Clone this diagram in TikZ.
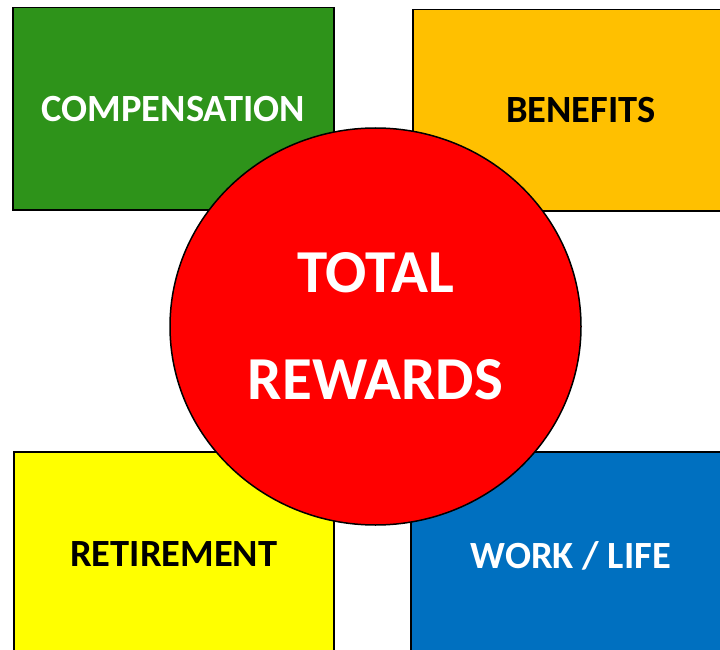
\documentclass[tikz,border=0pt]{standalone}
\usepackage{fontspec}
\setmainfont{Carlito}
\usetikzlibrary{shapes.geometric}
\definecolor{cgreen}{RGB}{46,147,26}
\definecolor{corange}{RGB}{255,192,0}
\definecolor{cyellow}{RGB}{255,255,0}
\definecolor{cblue}{RGB}{0,112,192}
\definecolor{cred}{RGB}{255,0,0}
\tikzset{
  box/.style={draw=black, line width=1.5pt, rectangle, inner sep=0pt, anchor=north west,
    font=\fontsize{38.5}{42}\selectfont\bfseries},
  hub/.style={draw=black, line width=1.5pt, ellipse, fill=cred, inner sep=0pt,
    minimum width=411pt, minimum height=397pt, text=white, align=center,
    font=\fontsize{61}{107}\selectfont\bfseries}
}
\begin{document}
\begin{tikzpicture}[x=1pt,y=-1pt]
\useasboundingbox (0,0) rectangle (720,650);
\clip (0,0) rectangle (720,650);
\fill[white] (0,0) rectangle (720,650);
\node[box, fill=cgreen, text=white, minimum width=321pt, minimum height=202pt] (comp) at (12,7) {COMPENSATION};
\node[box, fill=corange, text=black, minimum width=336pt, minimum height=201pt] (bene) at (412,9) {BENEFITS};
\node[box, fill=cyellow, text=black, minimum width=320pt, minimum height=204pt] (reti) at (13,451) {RETIREMENT};
\node[box, fill=cblue, text=white, minimum width=320pt, minimum height=208pt] (work) at (410,451) {WORK / LIFE};
\node[hub] (total) at (375.5,326.5) {TOTAL\\REWARDS};
\end{tikzpicture}
\end{document}
